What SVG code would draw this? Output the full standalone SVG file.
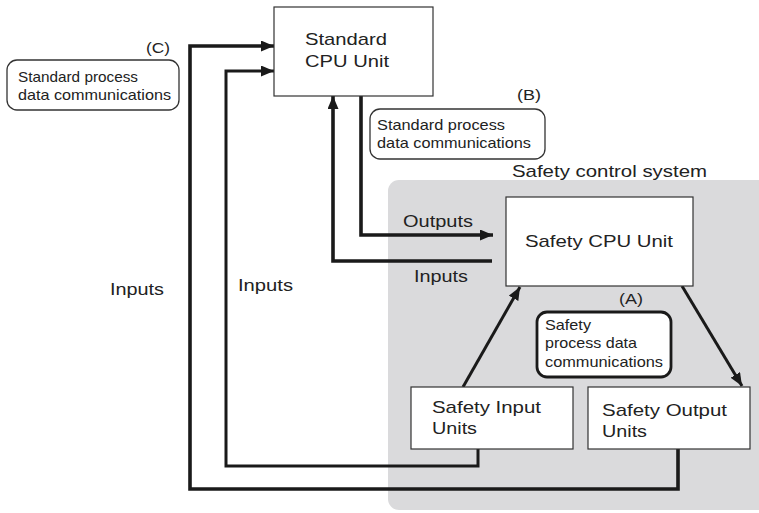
<svg xmlns="http://www.w3.org/2000/svg" width="759" height="513" viewBox="0 0 759 513">
  <defs>
    <marker id="arrow" markerUnits="userSpaceOnUse" markerWidth="13" markerHeight="11" refX="13" refY="5.5" orient="auto">
      <path d="M0,0 L13,5.5 L0,11 Z" fill="#1a1a1a"/>
    </marker>
    <style>
      text { font-family: "Liberation Sans", Arial, sans-serif; fill: #222; }
      .unit { fill: #fff; stroke: #333; stroke-width: 1.2; }
      .note { fill: #fff; stroke: #333; stroke-width: 1.3; }
      .note-bold { fill: #fff; stroke: #1a1a1a; stroke-width: 2.8; }
      .wire { fill: none; stroke: #1a1a1a; stroke-width: 3.6; stroke-linejoin: miter; }
      .wire-thin { fill: none; stroke: #1a1a1a; stroke-width: 3; }
      .big { font-size: 17px; }
      .small { font-size: 15px; }
    </style>
  </defs>

  <rect width="759" height="513" fill="#fff"/>

  <!-- safety control system area -->
  <g id="safety-area">
    <rect x="388" y="180" width="390" height="330" rx="11" fill="#dadadc"/>
    <text class="big" x="512" y="177" textLength="195" lengthAdjust="spacingAndGlyphs">Safety control system</text>
  </g>

  <!-- connectors -->
  <g id="connectors">
    <path class="wire" d="M678,449 V489 H190 V46 H274" marker-end="url(#arrow)"/>
    <path class="wire-thin" d="M478,449 V466 H226 V71 H274" marker-end="url(#arrow)"/>
    <path class="wire" d="M492,261 H333 V96" marker-end="url(#arrow)"/>
    <path class="wire" d="M361,96 V235 H493" marker-end="url(#arrow)"/>
    <path class="wire-thin" d="M463,387 L520,287" marker-end="url(#arrow)"/>
    <path class="wire-thin" d="M682,286 L742,386" marker-end="url(#arrow)"/>
  </g>

  <!-- connector labels -->
  <g id="labels">
    <text class="big" x="110" y="295" textLength="54" lengthAdjust="spacingAndGlyphs">Inputs</text>
    <text class="big" x="238" y="291" textLength="55" lengthAdjust="spacingAndGlyphs">Inputs</text>
    <text class="big" x="403" y="227" textLength="70" lengthAdjust="spacingAndGlyphs">Outputs</text>
    <text class="big" x="414" y="282" textLength="54" lengthAdjust="spacingAndGlyphs">Inputs</text>
  </g>

  <g id="standard-cpu">
    <rect class="unit" x="274" y="7" width="159" height="89"/>
    <text class="big" x="305" y="45" font-size="18" textLength="82" lengthAdjust="spacingAndGlyphs">Standard</text>
    <text class="big" x="305" y="67" font-size="18" textLength="84" lengthAdjust="spacingAndGlyphs">CPU Unit</text>
  </g>

  <g id="safety-cpu">
    <rect class="unit" x="506" y="197" width="187" height="89"/>
    <text class="big" x="525" y="247" textLength="148" lengthAdjust="spacingAndGlyphs">Safety CPU Unit</text>
  </g>

  <g id="safety-input">
    <rect class="unit" x="411" y="387" width="162" height="62"/>
    <text class="big" x="432" y="413" textLength="109" lengthAdjust="spacingAndGlyphs">Safety Input</text>
    <text class="big" x="432" y="434" textLength="45" lengthAdjust="spacingAndGlyphs">Units</text>
  </g>

  <g id="safety-output">
    <rect class="unit" x="588" y="387" width="162" height="62"/>
    <text class="big" x="602" y="416" textLength="125" lengthAdjust="spacingAndGlyphs">Safety Output</text>
    <text class="big" x="602" y="437" textLength="45" lengthAdjust="spacingAndGlyphs">Units</text>
  </g>

  <g id="note-c">
    <text class="small" x="146" y="53" textLength="24" lengthAdjust="spacingAndGlyphs">(C)</text>
    <rect class="note" x="7" y="60" width="172" height="50" rx="10"/>
    <text class="small" x="18" y="82" textLength="120" lengthAdjust="spacingAndGlyphs">Standard process</text>
    <text class="small" x="18" y="100" textLength="153" lengthAdjust="spacingAndGlyphs">data communications</text>
  </g>

  <g id="note-b">
    <text class="small" x="517" y="100" textLength="24" lengthAdjust="spacingAndGlyphs">(B)</text>
    <rect class="note" x="370" y="109" width="175" height="50" rx="10"/>
    <text class="small" x="377" y="130" textLength="128" lengthAdjust="spacingAndGlyphs">Standard process</text>
    <text class="small" x="377" y="148" textLength="154" lengthAdjust="spacingAndGlyphs">data communications</text>
  </g>

  <g id="note-a">
    <text class="small" x="619" y="304" textLength="24" lengthAdjust="spacingAndGlyphs">(A)</text>
    <rect class="note-bold" x="537" y="312" width="134" height="65" rx="10"/>
    <text class="small" x="545" y="330" textLength="46" lengthAdjust="spacingAndGlyphs">Safety</text>
    <text class="small" x="545" y="348" textLength="92" lengthAdjust="spacingAndGlyphs">process data</text>
    <text class="small" x="545" y="367" textLength="118" lengthAdjust="spacingAndGlyphs">communications</text>
  </g>
</svg>
